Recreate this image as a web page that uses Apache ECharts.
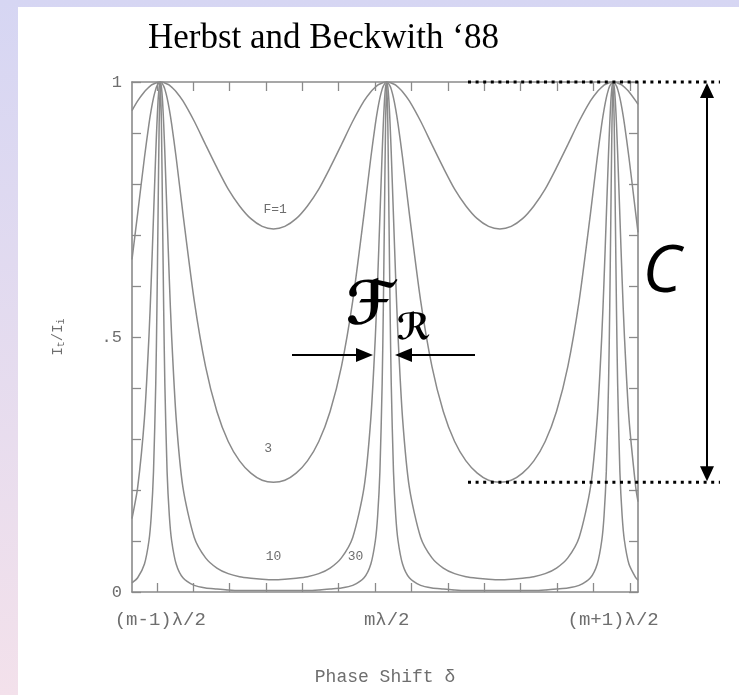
<!DOCTYPE html>
<html>
<head>
<meta charset="utf-8">
<script src="https://cdn.jsdelivr.net/npm/echarts@6/dist/echarts.min.js"></script>
<style>
  html, body { margin: 0; padding: 0; background: #fff; }
  #chart { width: 739px; height: 695px; }
</style>
</head>
<body>
<div id="chart"></div>
<script>
// Phase positions (orders of λ/2; transmission peaks at 0, 1, 2)
const phase = [
  -0.125, -0.1, -0.07, -0.05, -0.04, -0.03, -0.02, -0.015, -0.01, -0.005,
  0, 0.005, 0.01, 0.015, 0.02, 0.03, 0.04, 0.05, 0.07, 0.1, 0.15, 0.2, 0.25, 0.3, 0.35, 0.4, 0.45,
  0.5, 0.55, 0.6, 0.65, 0.7, 0.75, 0.8, 0.85, 0.9, 0.93, 0.95, 0.96, 0.97, 0.98, 0.985, 0.99, 0.995,
  1, 1.005, 1.01, 1.015, 1.02, 1.03, 1.04, 1.05, 1.07, 1.1, 1.15, 1.2, 1.25, 1.3, 1.35, 1.4, 1.45,
  1.5, 1.55, 1.6, 1.65, 1.7, 1.75, 1.8, 1.85, 1.9, 1.93, 1.95, 1.96, 1.97, 1.98, 1.985, 1.99, 1.995,
  2, 2.005, 2.01, 2.015, 2.02, 2.03, 2.04, 2.05, 2.07, 2.1, 2.11
];

// Transmitted intensity It/Ii for finesse F = 1, 3, 10, 30
const transF1 = [
  0.944, 0.963, 0.981, 0.99, 0.994, 0.996, 0.998, 0.999, 1, 1,
  1, 1, 1, 0.999, 0.998, 0.996, 0.994, 0.99, 0.981, 0.963, 0.923, 0.877, 0.832, 0.79, 0.757, 0.732, 0.717,
  0.712, 0.717, 0.732, 0.757, 0.79, 0.832, 0.877, 0.923, 0.963, 0.981, 0.99, 0.994, 0.996, 0.998, 0.999, 1, 1,
  1, 1, 1, 0.999, 0.998, 0.996, 0.994, 0.99, 0.981, 0.963, 0.923, 0.877, 0.832, 0.79, 0.757, 0.732, 0.717,
  0.712, 0.717, 0.732, 0.757, 0.79, 0.832, 0.877, 0.923, 0.963, 0.981, 0.99, 0.994, 0.996, 0.998, 0.999, 1, 1,
  1, 1, 1, 0.999, 0.998, 0.996, 0.994, 0.99, 0.981, 0.963, 0.956
];
const transF3 = [
  0.652, 0.742, 0.852, 0.918, 0.946, 0.969, 0.986, 0.992, 0.996, 0.999,
  1, 0.999, 0.996, 0.992, 0.986, 0.969, 0.946, 0.918, 0.852, 0.742, 0.571, 0.442, 0.354, 0.295, 0.257, 0.233, 0.219,
  0.215, 0.219, 0.233, 0.257, 0.295, 0.354, 0.442, 0.571, 0.742, 0.852, 0.918, 0.946, 0.969, 0.986, 0.992, 0.996, 0.999,
  1, 0.999, 0.996, 0.992, 0.986, 0.969, 0.946, 0.918, 0.852, 0.742, 0.571, 0.442, 0.354, 0.295, 0.257, 0.233, 0.219,
  0.215, 0.219, 0.233, 0.257, 0.295, 0.354, 0.442, 0.571, 0.742, 0.852, 0.918, 0.946, 0.969, 0.986, 0.992, 0.996, 0.999,
  1, 0.999, 0.996, 0.992, 0.986, 0.969, 0.946, 0.918, 0.852, 0.742, 0.705
];
const transF10 = [
  0.144, 0.205, 0.341, 0.502, 0.611, 0.736, 0.862, 0.917, 0.962, 0.99,
  1, 0.99, 0.962, 0.917, 0.862, 0.736, 0.611, 0.502, 0.341, 0.205, 0.107, 0.067, 0.047, 0.036, 0.03, 0.027, 0.025,
  0.024, 0.025, 0.027, 0.03, 0.036, 0.047, 0.067, 0.107, 0.205, 0.341, 0.502, 0.611, 0.736, 0.862, 0.917, 0.962, 0.99,
  1, 0.99, 0.962, 0.917, 0.862, 0.736, 0.611, 0.502, 0.341, 0.205, 0.107, 0.067, 0.047, 0.036, 0.03, 0.027, 0.025,
  0.024, 0.025, 0.027, 0.03, 0.036, 0.047, 0.067, 0.107, 0.205, 0.341, 0.502, 0.611, 0.736, 0.862, 0.917, 0.962, 0.99,
  1, 0.99, 0.962, 0.917, 0.862, 0.736, 0.611, 0.502, 0.341, 0.205, 0.177
];
const transF30 = [
  0.018, 0.028, 0.055, 0.101, 0.149, 0.236, 0.41, 0.553, 0.735, 0.917,
  1, 0.917, 0.735, 0.553, 0.41, 0.236, 0.149, 0.101, 0.055, 0.028, 0.013, 0.008, 0.006, 0.004, 0.003, 0.003, 0.003,
  0.003, 0.003, 0.003, 0.003, 0.004, 0.006, 0.008, 0.013, 0.028, 0.055, 0.101, 0.149, 0.236, 0.41, 0.553, 0.735, 0.917,
  1, 0.917, 0.735, 0.553, 0.41, 0.236, 0.149, 0.101, 0.055, 0.028, 0.013, 0.008, 0.006, 0.004, 0.003, 0.003, 0.003,
  0.003, 0.003, 0.003, 0.003, 0.004, 0.006, 0.008, 0.013, 0.028, 0.055, 0.101, 0.149, 0.236, 0.41, 0.553, 0.735, 0.917,
  1, 0.917, 0.735, 0.553, 0.41, 0.236, 0.149, 0.101, 0.055, 0.028, 0.023
];

// Axis tick positions and labels
const phaseTicks = [-0.015, 0.146, 0.306, 0.467, 0.628, 0.788, 0.949, 1.11, 1.27, 1.431, 1.592, 1.752, 1.913, 2.074];
const orderTicks = [0, 1, 2];
const orderLabels = ['(m-1)λ/2', 'mλ/2', '(m+1)λ/2'];
const yTickLabels = { 0: '0', 0.5: '.5', 1: '1' };

// Curve annotations: [label, phase, intensity]
const curveLabels = [
  ['F=1', 0.507, 0.75],
  ['3', 0.476, 0.282],
  ['10', 0.5, 0.069],
  ['30', 0.862, 0.069]
];

const finesse = [
  ['F=1', transF1], ['F=3', transF3], ['F=10', transF10], ['F=30', transF30]
];

const GREY = '#8a8a8a';
const TEXT_GREY = '#6e6e6e';
const MONO = '"Liberation Mono", "DejaVu Sans Mono", monospace';

const chart = echarts.init(document.getElementById('chart'), null, { renderer: 'canvas' });

const sharedTick = { show: true, inside: true, length: 9, lineStyle: { color: GREY, width: 1.3 } };
const sharedLine = { show: true, onZero: false, lineStyle: { color: GREY, width: 1.6 } };

chart.setOption({
  animation: false,
  backgroundColor: 'transparent',
  grid: { left: 132, right: 101, top: 82, bottom: 103, containLabel: false },
  xAxis: [
    {
      type: 'value', position: 'bottom', min: -0.125, max: 2.11,
      axisLine: sharedLine,
      axisTick: Object.assign({}, sharedTick, { customValues: phaseTicks }),
      splitLine: { show: false },
      axisLabel: {
        customValues: orderTicks,
        formatter: (v) => orderLabels[Math.round(v)] || '',
        margin: 18, color: TEXT_GREY, fontFamily: MONO, fontSize: 19
      },
      name: 'Phase Shift δ', nameLocation: 'middle', nameGap: 76,
      nameTextStyle: { color: TEXT_GREY, fontFamily: MONO, fontSize: 18 }
    },
    {
      type: 'value', position: 'top', min: -0.125, max: 2.11,
      axisLine: sharedLine,
      axisTick: Object.assign({}, sharedTick, { customValues: phaseTicks }),
      splitLine: { show: false },
      axisLabel: { show: false }
    }
  ],
  yAxis: [
    {
      type: 'value', position: 'left', min: 0, max: 1, interval: 0.1,
      axisLine: sharedLine, axisTick: sharedTick, splitLine: { show: false },
      axisLabel: {
        formatter: (v) => {
          const k = Math.round(v * 10) / 10;
          return yTickLabels[k] !== undefined ? yTickLabels[k] : '';
        },
        margin: 10, color: TEXT_GREY, fontFamily: MONO, fontSize: 17
      },
      name: '{n|I}{s|t}{n|/I}{s|i}', nameLocation: 'middle', nameGap: 66, nameRotate: 90,
      nameTextStyle: {
        rich: {
          n: { color: TEXT_GREY, fontFamily: MONO, fontSize: 14 },
          s: { color: TEXT_GREY, fontFamily: MONO, fontSize: 10, verticalAlign: 'bottom', padding: [6, 0, 0, 0] }
        }
      }
    },
    {
      type: 'value', position: 'right', min: 0, max: 1, interval: 0.1,
      axisLine: sharedLine, axisTick: sharedTick, splitLine: { show: false },
      axisLabel: { show: false }
    }
  ],
  series: finesse.map(([name, values]) => ({
    name: name,
    type: 'line',
    xAxisIndex: 0, yAxisIndex: 0,
    data: phase.map((p, i) => [p, values[i]]),
    showSymbol: false,
    smooth: 0.25,
    clip: true,
    lineStyle: { color: GREY, width: 1.5 },
    z: 3
  }))
});

// Overlay: page background, title, curve labels and the contrast / width markers
function px(x, y) { return chart.convertToPixel({ gridIndex: 0 }, [x, y]); }

const topY = px(0, Math.max(...transF3))[1];
const lowY = px(0, Math.min(...transF3))[1];
const arrowX = 707;
const frY = 355;

const graphics = [
  {
    type: 'rect', z: -100, silent: true,
    shape: { x: 0, y: 0, width: 739, height: 695 },
    style: { fill: new echarts.graphic.LinearGradient(0, 0, 0, 1, [
      { offset: 0, color: '#d6d6f3' }, { offset: 1, color: '#f3e1eb' }
    ]) }
  },
  {
    type: 'rect', z: -99, silent: true,
    shape: { x: 18, y: 7, width: 721, height: 688 },
    style: { fill: '#ffffff' }
  },
  {
    type: 'text', z: 10, x: 148, y: 39,
    style: { text: 'Herbst and Beckwith ‘88', fill: '#000', font: '35px "Liberation Serif", "Times New Roman", serif', verticalAlign: 'middle' }
  },
  // dotted reference levels
  {
    type: 'line', z: 10, shape: { x1: 468, y1: topY, x2: 720, y2: topY },
    style: { stroke: '#000', lineWidth: 3, lineDash: [3, 4.6] }
  },
  {
    type: 'line', z: 10, shape: { x1: 468, y1: lowY, x2: 720, y2: lowY },
    style: { stroke: '#000', lineWidth: 3, lineDash: [3, 4.6] }
  },
  // contrast double arrow
  {
    type: 'line', z: 10, shape: { x1: arrowX, y1: topY + 12, x2: arrowX, y2: lowY - 12 },
    style: { stroke: '#000', lineWidth: 2 }
  },
  {
    type: 'polygon', z: 10, shape: { points: [[arrowX, topY + 1], [arrowX - 7, topY + 16], [arrowX + 7, topY + 16]] },
    style: { fill: '#000' }
  },
  {
    type: 'polygon', z: 10, shape: { points: [[arrowX, lowY - 1], [arrowX - 7, lowY - 16], [arrowX + 7, lowY - 16]] },
    style: { fill: '#000' }
  },
  {
    type: 'text', z: 10, x: 662, y: 273,
    style: { text: 'C', fill: '#000', font: 'italic 66px "Open Sans", "DejaVu Sans", sans-serif', align: 'center', verticalAlign: 'middle' }
  },
  // resolution width marker at the central peak
  {
    type: 'line', z: 10, shape: { x1: 292, y1: frY, x2: 360, y2: frY },
    style: { stroke: '#000', lineWidth: 2 }
  },
  {
    type: 'polygon', z: 10, shape: { points: [[373, frY], [356, frY - 7], [356, frY + 7]] },
    style: { fill: '#000' }
  },
  {
    type: 'line', z: 10, shape: { x1: 408, y1: frY, x2: 475, y2: frY },
    style: { stroke: '#000', lineWidth: 2 }
  },
  {
    type: 'polygon', z: 10, shape: { points: [[395, frY], [412, frY - 7], [412, frY + 7]] },
    style: { fill: '#000' }
  },
  {
    type: 'text', z: 10, x: 370, y: 308,
    style: { text: 'ℱ', fill: '#000', font: 'italic bold 60px "DejaVu Serif", "DejaVu Sans", serif', align: 'center', verticalAlign: 'middle' }
  },
  {
    type: 'text', z: 10, x: 414, y: 330,
    style: { text: 'ℛ', fill: '#000', font: 'italic bold 36px "DejaVu Serif", "DejaVu Sans", serif', align: 'center', verticalAlign: 'middle' }
  }
];

curveLabels.forEach(([txt, x, y]) => {
  const p = px(x, y);
  graphics.push({
    type: 'text', z: 10, x: p[0], y: p[1],
    style: { text: txt, fill: TEXT_GREY, font: '13px ' + MONO, align: 'center', verticalAlign: 'middle' }
  });
});

chart.setOption({ graphic: graphics });
</script>
</body>
</html>
